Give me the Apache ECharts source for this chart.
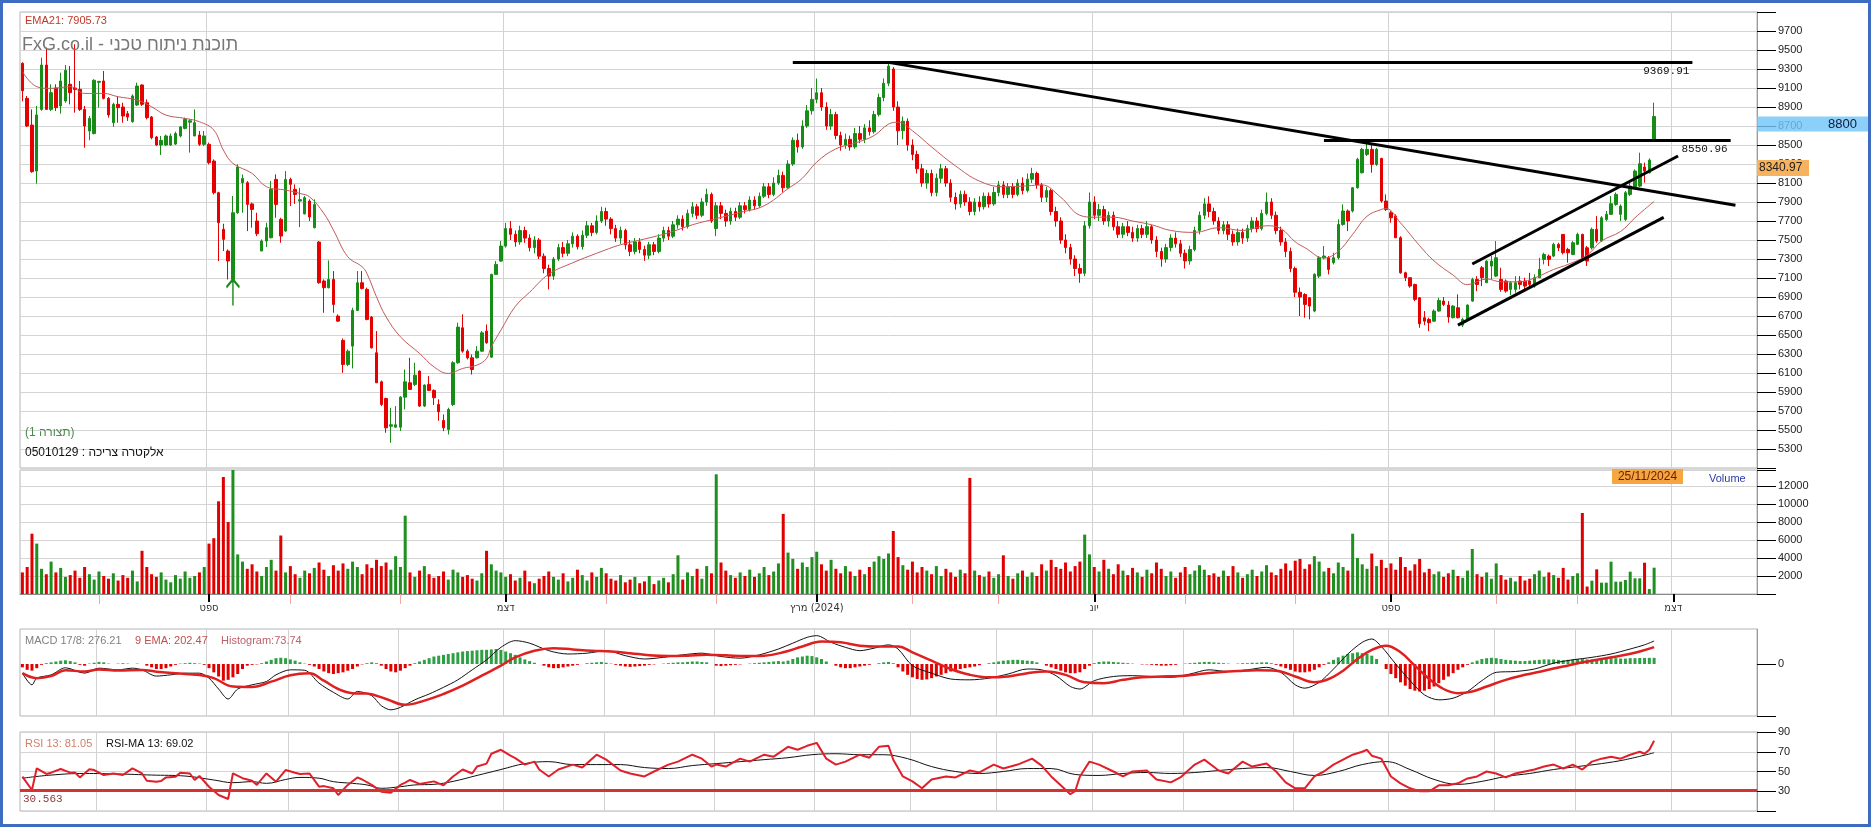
<!DOCTYPE html>
<html><head><meta charset="utf-8">
<script src="https://cdn.jsdelivr.net/npm/echarts@6/dist/echarts.min.js"></script>
<style>html,body{margin:0;padding:0;background:#fff}#c{width:1872px;height:828px}</style>
</head><body><div id="c"></div>
<script>
// ---- categories (trading-day slots per month, Jul 2023 .. Dec 2024) ----
const monthDays = [16,23,17,23,22,21,23,21,20,18,20,19,23,20,22,17,20,18];
const quarterLabels = ['','','ספט','','','דצמ','','','מרץ','','','יונ','','','ספט','','','דצמ'];
const quarterYears = ['','','','','','','','','(2024)','','','','','','','','',''];

// ---- OHLC ----
const opens = [
9360,8991,8710,8226,8875,9342,8875,9100,8911,8963,
9139,9100,9086,8875,8647,8620,9160,9174,8991,8735,
8928,8900,8830,8745,8921,9132,8945,8795,8584,8500,
8500,8500,8510,8595,8675,8740,8595,8605,8507,8507,
8331,7998,7612,7384,7085,7787,8103,8103,7880,7700,
7384,7489,7524,8138,7717,7594,8138,8033,7910,7775,
7910,7630,7478,7068,6998,7085,6699,6443,6190,6383,
6759,7050,6980,6689,6313,6007,5832,5540,5530,5530,
5846,5997,5980,6120,5752,5980,5917,5769,5600,5506,
5769,6208,6576,6330,6260,6260,6330,6541,6267,7138,
7278,7436,7620,7560,7480,7600,7520,7420,7500,7330,
7200,7120,7300,7420,7360,7460,7540,7430,7550,7650,
7580,7700,7800,7720,7620,7520,7600,7450,7380,7480,
7400,7340,7450,7380,7520,7600,7540,7660,7720,7640,
7780,7850,7760,7900,7980,7620,7860,7780,7700,7800,
7740,7860,7820,7920,7860,7960,8060,7980,8100,8180,
8050,8300,8550,8480,8700,8860,8980,9050,8900,8700,
8820,8600,8500,8560,8480,8620,8560,8680,8640,8820,
9000,9150,9300,8900,8650,8750,8500,8400,8250,8100,
8200,8000,8150,8250,8100,7950,7880,7980,7900,7800,
7900,7850,7960,7880,8000,8080,7980,8060,7980,8100,
8020,8140,8200,8080,7950,8020,7800,7700,7500,7420,
7300,7200,7150,7650,7900,7760,7820,7700,7760,7640,
7560,7640,7580,7520,7620,7560,7640,7500,7380,7300,
7420,7520,7460,7360,7280,7400,7600,7760,7880,7800,
7700,7600,7660,7560,7480,7580,7520,7620,7700,7620,
7780,7900,7760,7600,7480,7380,7200,6950,6927,6892,
6752,7120,7313,7313,7261,7313,7664,7805,7805,8050,
8208,8401,8454,8296,8359,7910,7787,7752,7524,7155,
7103,7032,6892,6682,6664,6646,6752,6857,6815,6682,
6787,6604,6664,6857,7085,7208,7050,7226,7120,7085,
7068,6980,6980,7068,7068,7068,7015,7103,7296,7331,
7331,7454,7559,7401,7348,7454,7559,7418,7418,7612,
7489,7717,7770,7875,7770,7717,7980,8050,8068,8268,
8208,8559];
const closes = [
9070,8700,8219,8816,9342,8875,9051,8893,9174,9286,
9051,9085,8875,8700,8780,9181,9170,8991,8816,8928,
8893,8805,8795,9016,9121,8928,8788,8577,8500,8549,
8595,8595,8620,8690,8770,8755,8735,8507,8595,8314,
7998,7682,7507,7279,7787,8268,8148,7875,7822,7566,
7489,7630,8033,7875,7542,8138,8086,7980,7925,7945,
7742,7875,7050,6998,7085,6822,6646,6190,6330,6759,
7050,6990,6664,6365,5997,5769,5523,5555,5555,5846,
6007,5927,6077,5752,5973,5917,5840,5692,5523,5716,
6208,6583,6330,6260,6137,6330,6523,6418,7138,7243,
7436,7620,7560,7480,7600,7520,7420,7500,7330,7200,
7120,7300,7420,7360,7460,7540,7430,7550,7650,7580,
7700,7800,7720,7620,7520,7600,7450,7380,7480,7400,
7340,7450,7380,7520,7600,7540,7660,7720,7640,7780,
7850,7760,7900,7980,7700,7860,7780,7700,7800,7740,
7860,7820,7920,7860,7960,8060,7980,8100,8180,8050,
8300,8550,8480,8700,8860,8980,9050,8900,8700,8820,
8600,8500,8560,8480,8620,8560,8680,8640,8820,9000,
9150,9330,8900,8650,8750,8500,8400,8250,8100,8200,
8000,8150,8250,8100,7950,7880,7980,7900,7800,7900,
7850,7960,7880,8000,8080,7980,8060,7980,8100,8020,
8140,8200,8080,7950,8020,7800,7700,7500,7420,7300,
7200,7150,7650,7900,7760,7820,7700,7760,7640,7560,
7640,7580,7520,7620,7560,7640,7500,7380,7300,7420,
7520,7460,7360,7280,7400,7600,7760,7880,7800,7700,
7600,7660,7560,7480,7580,7520,7620,7700,7620,7780,
7900,7760,7600,7480,7380,7200,6950,6900,6822,6804,
7138,7313,7331,7190,7313,7664,7805,7700,8050,8349,
8454,8454,8296,8454,7910,7822,7734,7524,7155,7103,
7015,6875,6618,6646,6629,6752,6864,6822,6689,6804,
6682,6664,6815,7085,7032,7103,7278,7278,7313,6980,
6962,7050,7050,7032,7015,7032,7103,7190,7348,7296,
7454,7418,7366,7366,7471,7559,7313,7278,7612,7489,
7734,7770,7882,7980,7857,7998,8068,8226,8303,8226,
8341,8800];
const highs = [
9370,9016,8875,8911,9420,9525,9139,9139,9261,9342,
9332,9560,9174,8911,8805,9192,9174,9279,9005,8945,
9016,8945,8858,9033,9156,9139,8980,8805,8595,8595,
8610,8620,8640,8700,8788,8770,8875,8647,8647,8525,
8349,8008,7671,7401,7963,8296,8190,8120,7893,7787,
7506,7682,8120,8191,7734,8226,8156,8086,8050,7963,
7928,7928,7489,7085,7285,7173,6717,6464,6348,6787,
7173,7173,6998,6699,6541,6021,5840,5734,5752,5857,
6137,6260,6208,6127,5980,6067,5927,5822,5664,5734,
6225,6629,6717,6348,6295,6383,6541,6611,7145,7278,
7489,7680,7700,7600,7650,7640,7560,7540,7520,7360,
7240,7320,7460,7480,7500,7580,7560,7600,7700,7680,
7760,7850,7840,7740,7660,7640,7620,7500,7520,7520,
7440,7480,7480,7560,7640,7640,7700,7760,7760,7820,
7900,7880,7940,8040,8000,7900,7900,7820,7840,7840,
7900,7900,7960,7960,8000,8100,8100,8160,8240,8220,
8340,8580,8620,8760,8920,9100,9200,9100,8950,8880,
8850,8640,8620,8600,8680,8700,8720,8760,8860,9040,
9200,9370,9320,8960,8800,8780,8560,8440,8300,8240,
8240,8200,8300,8280,8140,8000,8020,8020,7950,7940,
7960,8000,8000,8060,8120,8120,8100,8100,8140,8160,
8200,8260,8220,8100,8060,8040,7850,7740,7560,7460,
7340,7250,7700,8000,7960,7880,7860,7800,7800,7700,
7680,7700,7640,7660,7660,7700,7660,7540,7420,7460,
7560,7580,7500,7400,7440,7640,7800,7940,7960,7840,
7740,7700,7700,7600,7620,7620,7660,7740,7740,7820,
8000,7940,7800,7640,7520,7420,7220,7000,6940,6900,
7150,7331,7436,7331,7366,7717,7875,7822,8057,8366,
8470,8542,8507,8470,8366,7980,7805,7770,7540,7166,
7110,7040,6900,6752,6682,6770,6892,6899,6857,6815,
6927,6682,6822,7103,7120,7226,7285,7331,7489,7208,
7085,7068,7120,7120,7103,7155,7138,7313,7366,7348,
7471,7471,7559,7418,7489,7577,7566,7436,7630,7752,
7752,7805,7963,8000,7875,8015,8120,8243,8419,8314,
8359,8945];
const lows = [
8960,8690,8208,8093,8860,8870,8858,8858,8830,8945,
8928,8840,8858,8472,8550,8612,8893,8980,8788,8690,
8735,8735,8753,8735,8911,8911,8770,8560,8490,8395,
8490,8490,8500,8580,8665,8420,8595,8490,8490,8296,
7980,7278,7384,7085,7085,7775,7787,7594,7630,7541,
7384,7426,7517,7734,7471,7587,7858,7880,7636,7770,
7700,7622,7040,6734,6990,6734,6640,6102,6172,6148,
6752,6980,6655,6358,5997,5752,5471,5365,5525,5490,
5717,5927,5962,5742,5742,5910,5763,5597,5488,5453,
5752,6197,6313,6243,6084,6253,6323,6408,6260,7138,
7271,7420,7500,7430,7450,7470,7380,7360,7300,7150,
6980,7080,7280,7320,7330,7420,7400,7400,7520,7540,
7560,7680,7650,7560,7480,7460,7400,7330,7350,7360,
7280,7300,7340,7360,7480,7500,7520,7620,7600,7620,
7740,7720,7740,7860,7680,7540,7720,7640,7660,7700,
7720,7780,7800,7820,7840,7940,7940,7960,8080,8000,
8040,8280,8420,8460,8680,8820,8940,8860,8660,8660,
8560,8440,8460,8440,8460,8520,8520,8600,8620,8800,
8960,9120,8860,8500,8560,8440,8340,8200,8060,8040,
7960,7960,8100,8060,7900,7820,7840,7860,7760,7760,
7800,7820,7840,7860,7960,7940,7940,7940,7960,7980,
8000,8100,8040,7900,7900,7760,7640,7460,7360,7240,
7120,7050,7120,7620,7720,7700,7660,7640,7600,7520,
7520,7540,7480,7480,7520,7520,7460,7320,7220,7260,
7380,7420,7320,7200,7240,7380,7560,7720,7740,7660,
7560,7560,7500,7440,7440,7460,7480,7580,7580,7600,
7760,7720,7560,7440,7320,7160,6900,6700,6682,6664,
6740,7100,7296,7138,7243,7296,7650,7594,7790,8040,
8200,8384,8208,8280,7892,7805,7682,7524,7145,7068,
6998,6857,6576,6604,6541,6639,6745,6804,6629,6675,
6675,6583,6646,6850,6962,7015,7050,7085,7110,6955,
6945,6920,6945,6980,6962,6998,6998,7103,7243,7226,
7320,7384,7348,7261,7340,7450,7285,7226,7400,7471,
7480,7700,7763,7860,7700,7700,7963,8033,8057,8103,
8200,8550];
const volumes = [
2400,3000,6700,5600,2800,2200,3600,2400,2900,1900,
2100,2600,1800,3000,2200,1600,2500,2000,1700,2300,
1500,2100,1800,2600,1400,4800,3000,2200,1900,2400,
1600,1300,2100,1700,2500,1800,2000,2400,3000,5600,
6200,10300,13000,8000,13900,4400,3600,2800,3300,2500,
2000,3000,3800,2600,6500,2400,3100,2200,1800,2600,
2300,2900,3500,2700,2000,3200,2600,3400,2800,3600,
3000,2200,3300,2900,3800,3100,3500,2700,4200,3000,
8700,2400,1900,2600,3100,2200,1800,2000,2500,1600,
2700,2400,1900,2100,1700,1500,2300,4800,3300,2600,
2400,1900,2200,1500,1800,2600,1400,1200,1700,2000,
2500,1900,1600,2300,1400,1800,2700,2100,1500,2400,
1900,2900,2300,1700,1500,2100,1300,1600,1900,1200,
1400,2000,1100,1500,1800,1300,2200,4300,1600,2400,
2000,2800,1700,3100,2300,13300,3500,2600,2100,1800,
2400,2000,2700,1900,2300,3000,2100,2500,3400,8900,
4600,3900,2800,3500,3000,4100,4700,3300,2600,3800,
2800,2300,3100,2500,2000,2700,2200,3000,3600,4200,
3900,4500,7000,4100,3200,2700,3600,2400,3000,2600,
2200,3100,2000,2800,2400,1900,2700,2300,12900,2600,
2100,1900,2500,1800,2200,4300,2000,1700,2300,2600,
1900,2400,2000,3300,2600,3800,3000,2800,3500,2500,
3100,3600,6600,4400,3000,2500,3800,2800,2200,3300,
2600,2100,2900,2400,1900,2700,2300,3500,2800,2000,
2500,1800,2400,3000,2200,2600,3200,2700,2100,2300,
1900,2600,2000,3100,2400,1800,2200,2700,2000,2500,
3200,2400,2100,2800,3400,2600,3700,3900,2800,3300,
4200,3600,2500,2900,2300,3500,3000,2600,6700,4000,
3300,2800,4500,3100,3800,2900,3400,2700,4100,3000,
2600,3300,3900,2400,2800,2200,2500,1900,2300,2700,
2000,1800,2600,5000,2200,1900,2400,1700,3400,2100,
1600,1800,1400,2000,1500,1700,2200,2600,1900,2400,
2100,1800,2900,1600,2000,2300,9000,830,1480,2740,
1260,1260,3590,1370,1370,1556,2480,1740,1740,3478,
550,2922];

// ---- EMA21 readings [index, value] ----
const emaPts = [[0,9272],[3,9114],[6,9096],[10,9114],[13,9043],[17,9043],[20,9008],[24,8973],[27,8903],[30,8815],[34,8780],[37,8745],[40,8657],[42,8447],[44,8306],[48,8201],[51,8061],[55,8026],[58,7990],[60,7955],[63,7780],[65,7604],[68,7324],[71,7218],[72,7148],[74,6902],[76,6692],[79,6481],[83,6306],[86,6165],[89,6095],[92,6148],[95,6183],[97,6253],[98,6376],[100,6551],[103,6800],[106,6950],[110,7140],[115,7260],[120,7360],[125,7450],[130,7510],[135,7575],[140,7660],[145,7725],[150,7790],[155,7860],[160,8040],[163,8150],[166,8320],[170,8460],[174,8520],[178,8600],[181,8720],[183,8740],[186,8650],[190,8480],[195,8280],[200,8120],[205,8060],[210,8070],[213,8080],[217,7950],[221,7760],[224,7740],[228,7740],[232,7700],[236,7660],[240,7600],[245,7580],[250,7630],[255,7600],[260,7650],[263,7620],[266,7480],[268,7420],[272,7310],[275,7380],[278,7560],[281,7750],[284,7822],[285,7830],[288,7680],[292,7440],[295,7280],[299,7130],[302,7030],[306,7090],[309,7060],[313,7060],[316,7100],[320,7190],[323,7243],[327,7340],[330,7489],[334,7590],[337,7734],[339,7822],[341,7906]];

// ---- MACD readings ----
const macdPts = [[0,-110],[2,-250],[3,-170],[6,-130],[9,-45],[13,-110],[16,-50],[20,-70],[23,-50],[25,-70],[28,-145],[31,-130],[34,-110],[37,-110],[39,-170],[41,-300],[43,-420],[45,-300],[48,-250],[51,-210],[53,-130],[56,-70],[59,-75],[62,-230],[65,-340],[68,-420],[70,-330],[73,-380],[75,-500],[77,-550],[79,-520],[82,-430],[85,-360],[88,-280],[91,-190],[94,-70],[97,50],[100,200],[103,280],[106,250],[110,160],[114,120],[118,130],[122,160],[126,100],[130,60],[134,80],[138,110],[142,130],[146,90],[150,70],[154,110],[158,180],[161,250],[164,320],[166,340],[169,260],[172,200],[175,160],[178,190],[181,230],[183,180],[186,-20],[190,-110],[194,-180],[198,-190],[202,-170],[206,-120],[210,-60],[213,-70],[216,-140],[219,-270],[221,-300],[224,-200],[228,-150],[232,-140],[236,-150],[240,-160],[244,-120],[248,-70],[252,-90],[256,-70],[260,-40],[263,-100],[266,-250],[268,-290],[271,-220],[274,-60],[277,120],[280,260],[282,300],[284,210],[287,0],[290,-200],[293,-370],[296,-430],[299,-410],[302,-330],[305,-200],[308,-100],[312,-90],[316,-60],[320,10],[324,50],[328,80],[332,120],[336,180],[339,230],[341,276]];
const signalPts = [[0,-110],[3,-170],[6,-145],[9,-75],[13,-90],[16,-65],[20,-78],[25,-72],[28,-92],[32,-112],[37,-132],[40,-170],[44,-270],[48,-275],[52,-212],[56,-135],[60,-112],[63,-200],[66,-300],[69,-350],[72,-355],[76,-420],[80,-490],[84,-440],[88,-360],[92,-260],[96,-140],[100,-20],[103,80],[107,160],[111,190],[115,175],[119,160],[123,150],[127,130],[131,105],[135,95],[139,100],[143,110],[147,105],[151,95],[155,100],[159,140],[163,210],[167,270],[171,260],[175,220],[179,210],[183,210],[186,140],[190,40],[194,-60],[198,-130],[202,-160],[206,-150],[210,-110],[214,-90],[218,-130],[222,-220],[226,-230],[230,-190],[234,-160],[238,-150],[242,-145],[246,-120],[250,-100],[254,-85],[258,-75],[262,-80],[266,-150],[270,-220],[273,-180],[276,-80],[279,60],[282,170],[285,220],[288,140],[291,-20],[294,-180],[297,-300],[300,-350],[303,-330],[306,-270],[310,-190],[314,-130],[318,-80],[322,-30],[326,20],[330,60],[334,100],[338,150],[341,202]];
const histVals = [
-40,-70,-80,-50,-10,10,20,30,40,45,
35,20,-10,-20,5,15,25,20,5,0,
5,10,5,0,5,0,-20,-40,-60,-60,
-50,-30,-10,5,10,15,10,5,-10,-50,
-100,-150,-200,-190,-160,-120,-60,-20,-10,-5,
10,30,50,70,75,70,55,40,20,5,
-10,-30,-60,-90,-110,-120,-110,-100,-80,-60,
-30,-5,10,20,10,-20,-60,-90,-100,-80,
-50,-20,10,30,50,70,90,100,110,120,
130,140,150,155,160,165,170,170,175,180,
170,150,130,110,80,55,35,15,0,-20,
-40,-50,-50,-40,-30,-20,-10,0,10,15,
20,25,15,5,-10,-20,-30,-35,-30,-25,
-20,-10,-5,0,5,10,15,20,20,25,
30,30,25,20,0,-20,-25,-20,-15,-10,
-5,0,5,10,15,20,25,30,35,30,
40,60,80,90,100,95,80,60,30,0,
-20,-40,-50,-50,-40,-30,-20,-10,0,10,
20,25,10,-40,-90,-130,-160,-180,-190,-185,
-170,-150,-130,-110,-90,-70,-60,-50,-40,-30,
-15,0,10,20,30,40,45,50,50,45,
40,35,20,0,-20,-40,-60,-80,-100,-110,
-110,-100,-60,-20,10,25,30,30,25,20,
15,10,5,0,-5,-5,-10,-15,-20,-20,
-15,-10,0,5,10,15,20,25,25,20,
15,10,5,0,5,10,10,15,15,20,
20,10,-10,-30,-50,-70,-90,-100,-100,-90,
-70,-40,-10,20,50,80,100,120,130,140,
130,120,100,60,0,-60,-120,-170,-220,-260,
-300,-320,-330,-320,-300,-270,-230,-190,-150,-110,
-70,-40,-10,20,40,60,70,75,70,60,
50,45,40,35,35,40,45,50,55,55,
55,50,45,50,55,60,60,55,55,60,
60,65,70,70,65,65,70,70,72,73,
74,74];

// ---- RSI readings ----
const rsiPts = [[0,44.8],[2,31.3],[3,53.2],[5,47.5],[6,48.8],[8,52.5],[10,48.8],[11,49],[12,44],[14,52.2],[15,51.5],[17,46.4],[19,48],[21,46.4],[23,53.2],[25,48],[26,40.7],[28,39.7],[29,40.4],[30,44],[32,44.8],[33,48.8],[35,48],[36,41.4],[37,45.4],[39,34.6],[41,26.2],[43,22.2],[44,48.2],[46,43.2],[48,40.7],[49,36.4],[51,48],[53,39.7],[55,51.5],[57,48.8],[58,47.5],[60,48],[62,34.6],[63,35.2],[65,33],[66,26.2],[68,36.4],[70,44],[71,41.9],[73,36.4],[75,29.6],[77,28.6],[79,36.4],[80,38.7],[81,41.4],[83,37.4],[86,40],[88,36],[90,45],[92,52],[94,48],[95,55],[97,58],[98,68],[100,72],[102,66],[103,63.5],[105,57],[107,60],[108,52],[110,45],[112,52],[115,57],[117,54],[120,67],[122,62],[125,51],[127,48],[130,45],[132,50],[135,57],[137,60],[140,67],[142,63],[144,55],[145,57],[147,55],[150,63],[152,60],[155,67],[157,65],[160,75],[162,72],[164,76],[166,79],[168,63],[170,57],[172,60],[175,67],[177,64],[179,75],[181,76],[182,62],[184,45],[186,40],[188,33],[190,42],[193,45],[195,44],[198,51],[200,49],[203,57],[205,53],[208,57],[211,63],[213,56],[215,45],[217,36],[219,27],[220,30],[221,45],[223,60],[225,57],[228,50],[230,45],[232,50],[235,51],[237,42],[240,39],[242,44],[245,57],[247,62],[250,51],[252,48],[255,60],[257,55],[260,58],[262,50],[264,39],[266,33],[268,33],[270,45],[272,50],[274,57],[276,62],[278,67],[280,70],[281,72],[282,66],[284,63],[286,45],[288,38],[290,33],[292,30],[294,30],[296,36],[298,36],[300,38],[302,43],[304,45],[306,50],[308,48],[310,44],[312,48],[314,50],[316,52],[318,55],[320,57],[322,53],[324,57],[326,52],[328,60],[330,63],[332,65],[334,63],[336,67],[338,70],[339,68],[340,72],[341,81.05]];
const rsiMaPts = [[0,43.2],[6,46.4],[13,48],[20,47.5],[27,46.4],[34,45.4],[40,41.4],[44,38.7],[48,39.7],[51,38],[55,41.9],[58,44],[62,43.2],[65,39.7],[69,38],[72,36.4],[75,33],[79,34.6],[82,36.4],[86,37],[90,40],[95,46],[100,52],[105,58],[110,60],[115,57],[120,57],[125,57],[130,54],[135,53],[140,56],[145,58],[150,60],[155,62],[160,64],[165,67],[170,68],[175,67],[180,67],[185,63],[190,55],[195,50],[200,48],[205,50],[210,53],[215,53],[220,47],[225,46],[230,48],[235,49],[240,48],[245,49],[250,51],[255,53],[260,54],[265,50],[270,46],[275,50],[280,57],[285,60],[290,52],[295,42],[300,37],[305,40],[310,45],[315,48],[320,52],[325,55],[330,58],[335,62],[341,69.02]];
const rsiLevel = 30.563;

// ---- drawn trend lines [index, price] ----
const resistTop = [[161,9369.91],[349,9369.91]];
const resistMid = [[272,8550.96],[357,8550.96]];
const downTrend = [[181,9369.91],[358,7865]];
const channelUp = [[303,7247],[346,8384]];
const channelLow = [[300,6604],[343,7738]];
const arrowIdx = 44;
const lastClose = 8800, prevClose = 8340.97, lastDate = '25/11/2024';

// ---- build categories ----
const cats = [], monthStart = new Set(), quarterStart = new Set();
monthDays.forEach((n, m) => {
  for (let d = 0; d < n; d++) {
    if (d === 0 && m > 0) { monthStart.add(cats.length); if (quarterLabels[m]) quarterStart.add(cats.length); }
    cats.push(m + '|' + d);
  }
});
const GREEN = '#178c17', RED = '#e60000';
const ohlc = opens.map((o, i) => [o, closes[i], lows[i], highs[i]]);
const volData = volumes.map((v, i) => ({ value: v, itemStyle: { color: closes[i] >= opens[i] ? '#1f8f1f' : '#e00000' } }));
const histData = histVals.map(v => ({ value: v, itemStyle: { color: v >= 0 ? '#2ea043' : '#e00000' } }));

const FONT = 'Liberation Sans, Arial, sans-serif';
const NARROW = 'Liberation Sans Narrow, DejaVu Sans Condensed, sans-serif';
const MONO = 'Liberation Mono, DejaVu Sans Mono, monospace';
const gridBase = { left: 20, width: 1737, show: true, borderColor: '#b4b4b4', borderWidth: 1, backgroundColor: 'transparent' };
const qFn = (i) => quarterStart.has(i);
const mFn = (i) => monthStart.has(i);
const mOnlyFn = (i) => monthStart.has(i) && !quarterStart.has(i);
const hiddenX = (g, splitFn) => ({
  type: 'category', gridIndex: g, data: cats, boundaryGap: true,
  axisLine: { show: false }, axisTick: { show: false }, axisLabel: { show: false },
  splitLine: { show: true, interval: splitFn, lineStyle: { color: '#d2d2d2', width: 1 } }
});
const rightY = (g, extra) => Object.assign({
  type: 'value', gridIndex: g, position: 'right', scale: false,
  axisLine: { show: true, lineStyle: { color: '#9a9a9a' } },
  axisTick: { show: true, length: 19, lineStyle: { color: '#000', width: 1 } },
  axisLabel: { color: '#222', fontSize: 11, fontFamily: FONT, margin: 21 },
  splitLine: { show: true, lineStyle: { color: '#d4d4d4', width: 1 } }
}, extra);
const mlItem = (pts, label) => [
  { coord: pts[0], lineStyle: { color: '#000', width: 3, type: 'solid' }, label: label || { show: false } },
  { coord: pts[1] }
];
const monthLabel = (v) => {
  const m = +v.split('|')[0];
  return quarterYears[m] ? '{h|' + quarterLabels[m] + '}{y| ' + quarterYears[m] + '}' : '{h|' + quarterLabels[m] + '}';
};

const chart = echarts.init(document.getElementById('c'), null, { renderer: 'canvas' });
chart.setOption({
  animation: false,
  backgroundColor: '#ffffff',
  grid: [
    Object.assign({ top: 12, height: 456 }, gridBase),
    Object.assign({ top: 470, height: 124 }, gridBase),
    Object.assign({ top: 629, height: 87 }, gridBase),
    Object.assign({ top: 732, height: 79 }, gridBase)
  ],
  xAxis: [
    hiddenX(0, qFn),
    {
      type: 'category', gridIndex: 1, data: cats, boundaryGap: true, position: 'bottom',
      axisLine: { show: true, lineStyle: { color: '#8a8a8a' } },
      axisTick: { show: true, alignWithLabel: true, interval: qFn, length: 8, lineStyle: { color: '#000', width: 2 } },
      axisLabel: { show: true, interval: qFn, margin: 9, fontSize: 11, color: '#333', fontFamily: NARROW,
        formatter: monthLabel,
        rich: { h: { fontSize: 11, color: '#333', fontFamily: NARROW }, y: { fontSize: 11, color: '#333', fontFamily: NARROW } } },
      splitLine: { show: true, interval: qFn, lineStyle: { color: '#d2d2d2' } }
    },
    {
      type: 'category', gridIndex: 1, data: cats, boundaryGap: true, position: 'bottom', offset: 0,
      axisLine: { show: false }, axisLabel: { show: false }, splitLine: { show: false },
      axisTick: { show: true, alignWithLabel: true, interval: mOnlyFn, length: 10, lineStyle: { color: '#f3a9a9', width: 1 } }
    },
    hiddenX(2, mFn),
    hiddenX(3, mFn)
  ],
  yAxis: [
    rightY(0, { min: 5100, max: 9900, interval: 200,
      axisLabel: { color: '#222', fontSize: 11, fontFamily: FONT, margin: 21, formatter: v => (v <= 5100 || v >= 9900) ? '' : String(v) } }),
    rightY(1, { min: 0, max: 13778, interval: 2000,
      axisLabel: { color: '#222', fontSize: 11, fontFamily: FONT, margin: 21, formatter: v => (v <= 0 || v > 12000) ? '' : String(v) } }),
    rightY(2, { min: -624, max: 420,
      axisTick: { show: true, length: 19, customValues: [-624, 0], lineStyle: { color: '#000' } },
      axisLabel: { color: '#222', fontSize: 11, fontFamily: FONT, margin: 21, customValues: [0] },
      splitLine: { show: false } }),
    rightY(3, { min: 10, max: 90, interval: 20,
      axisLabel: { color: '#222', fontSize: 11, fontFamily: FONT, margin: 21, formatter: v => v <= 10 ? '' : String(v) } })
  ],
  series: [
    {
      type: 'candlestick', name: 'price', xAxisIndex: 0, yAxisIndex: 0, data: ohlc, barWidth: 3,
      itemStyle: { color: GREEN, color0: RED, borderColor: GREEN, borderColor0: RED, borderWidth: 1 },
      markPoint: {
        silent: true, label: { show: false },
        data: [{ coord: [arrowIdx, lows[arrowIdx]], symbol: 'path://M0,9 L7,0 L14,9 M7,0 L7,30', symbolSize: [13, 26], symbolOffset: [0, '50%'],
          itemStyle: { color: 'rgba(0,0,0,0)', borderColor: '#1a8a1a', borderWidth: 2 } }]
      },
      markLine: {
        silent: true, symbol: ['none', 'none'], animation: false,
        data: [
          mlItem(resistTop, { show: true, position: 'insideEndBottom', formatter: '9369.91', color: '#111', fontFamily: MONO, fontSize: 11, distance: 3 }),
          mlItem(resistMid, { show: true, position: 'insideEndBottom', formatter: '8550.96', color: '#111', fontFamily: MONO, fontSize: 11, distance: 3 }),
          mlItem(downTrend), mlItem(channelUp), mlItem(channelLow)
        ]
      }
    },
    { type: 'line', name: 'ema', xAxisIndex: 0, yAxisIndex: 0, data: emaPts, smooth: 0.4, showSymbol: false, silent: true,
      lineStyle: { color: '#c25a5a', width: 1 }, z: 3 },
    { type: 'bar', name: 'vol', xAxisIndex: 1, yAxisIndex: 1, data: volData, barWidth: 3 },
    { type: 'bar', name: 'hist', xAxisIndex: 3, yAxisIndex: 2, data: histData, barWidth: 3 },
    { type: 'line', name: 'macd', xAxisIndex: 3, yAxisIndex: 2, data: macdPts, smooth: 0.3, showSymbol: false, silent: true,
      lineStyle: { color: '#111', width: 1 } },
    { type: 'line', name: 'signal', xAxisIndex: 3, yAxisIndex: 2, data: signalPts, smooth: 0.4, showSymbol: false, silent: true,
      lineStyle: { color: '#e02020', width: 2.5 } },
    { type: 'line', name: 'rsima', xAxisIndex: 4, yAxisIndex: 3, data: rsiMaPts, smooth: 0.4, showSymbol: false, silent: true,
      lineStyle: { color: '#111', width: 1 } },
    { type: 'line', name: 'rsi', xAxisIndex: 4, yAxisIndex: 3, data: rsiPts, showSymbol: false, silent: true,
      lineStyle: { color: '#e01f2a', width: 2 },
      markLine: { silent: true, symbol: ['none', 'none'],
        data: [{ yAxis: rsiLevel, lineStyle: { color: '#d23434', width: 3, type: 'solid' },
          label: { show: true, position: 'insideStartBottom', formatter: '30.563', color: '#8b3a3a', fontFamily: MONO, fontSize: 11, distance: 3 } }] } }
  ]
});

const py = (v) => chart.convertToPixel({ yAxisIndex: 0 }, v);
const T = (x, y, text, fill, size, extra) => ({ type: 'text', x, y, z: 100,
  style: Object.assign({ text, fill, fontSize: size, fontFamily: FONT, verticalAlign: 'middle' }, extra || {}) });
const yLast = py(lastClose), yPrev = py(prevClose);
chart.setOption({
  graphic: [
    T(25, 21, 'EMA21: 7905.73', '#c0392b', 11),
    T(22, 45, 'FxG.co.il - תוכנת ניתוח טכני', '#777', 18),
    T(25, 433, '(תצורה 1)', '#4a8a4a', 12),
    T(25, 453, 'אלקטרה צריכה : 05010129', '#111', 12),
    T(25, 641, 'MACD 17/8: 276.21', '#808080', 11),
    T(135, 641, '9 EMA: 202.47', '#c0504d', 11),
    T(221, 641, 'Histogram:73.74', '#c0606a', 11),
    T(25, 744, 'RSI 13: 81.05', '#d0806a', 11),
    T(106, 744, 'RSI-MA 13: 69.02', '#111', 11),
    { type: 'rect', z: 100, shape: { x: 1612, y: 469, width: 71, height: 15 }, style: { fill: '#f5a640' } },
    T(1647.5, 476.5, lastDate, '#6b1c00', 12, { align: 'center' }),
    T(1709, 479, 'Volume', '#2a3aa8', 11),
    { type: 'rect', z: 100, shape: { x: 1757, y: yLast, width: 111, height: 15 }, style: { fill: 'rgba(115,198,248,0.82)' } },
    T(1857, yLast + 7.5, '8800', '#0a1a40', 13, { align: 'right' }),
    { type: 'rect', z: 100, shape: { x: 1757, y: yPrev, width: 52, height: 16 }, style: { fill: '#f6b25f' } },
    T(1759, yPrev + 8, '8340.97', '#222', 12),
    { type: 'rect', z: 120, shape: { x: 1.5, y: 1.5, width: 1868, height: 824 }, style: { fill: 'none', stroke: '#3d6cc0', lineWidth: 3 } }
  ]
});
</script>
</body></html>
